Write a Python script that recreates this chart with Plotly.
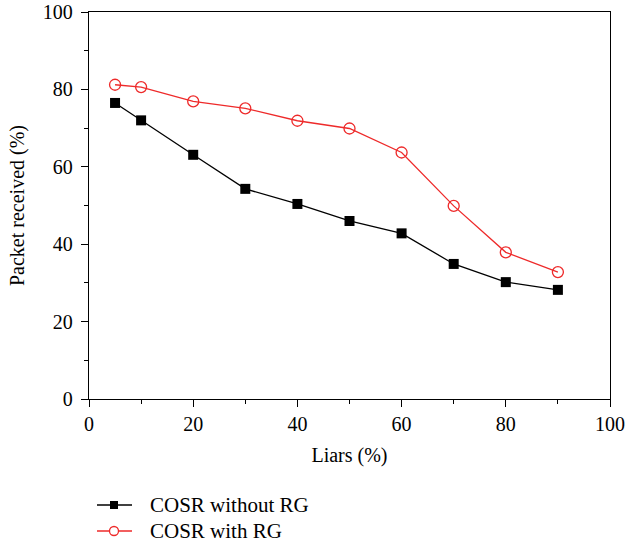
import plotly.graph_objects as go

liars = [5, 10, 20, 30, 40, 50, 60, 70, 80, 90]
without_rg = [76.5, 72.0, 63.1, 54.3, 50.4, 46.0, 42.8, 34.9, 30.2, 28.2]
with_rg = [81.2, 80.6, 76.9, 75.1, 71.9, 69.9, 63.7, 49.9, 37.9, 32.8]
series_names = ["COSR without RG", "COSR with RG"]

serif = "Liberation Serif"
fsize = 20
black = "black"
red = "#ee2a2a"

W, H = 627, 544
L, R, T, B = 89, 17, 12, 145
plot_w, plot_h = W - L - R, H - T - B


def px_x(px):
    return (px - L) / plot_w


def px_y(py):
    return (H - B - py) / plot_h


fig = go.Figure()
fig.add_trace(go.Scatter(
    x=liars, y=without_rg, mode="lines+markers", name=series_names[0],
    line=dict(color=black, width=1.3),
    marker=dict(symbol="square", size=10, color=black),
    showlegend=False,
))
fig.add_trace(go.Scatter(
    x=liars, y=with_rg, mode="lines+markers", name=series_names[1],
    line=dict(color=red, width=1.3),
    marker=dict(symbol="circle-open", size=11, color=red, line=dict(width=1.3)),
    showlegend=False,
))

axis_common = dict(
    showgrid=False, zeroline=False, showline=True, linecolor="black", linewidth=1.3,
    mirror=True, ticks="outside", ticklen=7, tickwidth=1.2, tickcolor="black",
    tickfont=dict(family=serif, size=fsize, color="black"),
    automargin=False,
)

fig.update_xaxes(
    range=[0, 100], dtick=20,
    minor=dict(dtick=10, ticks="outside", ticklen=4, tickwidth=1.2, tickcolor="black"),
    title=dict(text="Liars (%)", font=dict(family=serif, size=fsize, color="black"), standoff=13),
    **axis_common,
)
fig.update_yaxes(
    range=[0, 100], dtick=20,
    minor=dict(dtick=10, ticks="outside", ticklen=4, tickwidth=1.2, tickcolor="black"),
    ticklabelstandoff=4,
    title=dict(text="Packet received (%)", font=dict(family=serif, size=fsize, color="black"), standoff=12),
    **axis_common,
)

# Legend below the plot: sample line, marker glyph and label per series
legend_rows = [505, 531]
line_x0, line_x1, sym_x, text_x = 97, 132, 114, 148
shapes = []
annotations = []
for i, (name, color) in enumerate(zip(series_names, [black, red])):
    ly = px_y(legend_rows[i])
    shapes.append(dict(type="line", xref="paper", yref="paper",
                       x0=px_x(line_x0), x1=px_x(line_x1), y0=ly, y1=ly,
                       line=dict(color=color, width=1.3)))
    glyph = dict(xref="paper", yref="paper", xsizemode="pixel", ysizemode="pixel",
                 xanchor=px_x(sym_x), yanchor=ly)
    if i == 0:
        shapes.append(dict(type="rect", x0=-4, x1=4, y0=-4, y1=4,
                           fillcolor=black, line=dict(color=black, width=0), **glyph))
    else:
        shapes.append(dict(type="circle", x0=-4.5, x1=4.5, y0=-4.5, y1=4.5,
                           fillcolor="white", line=dict(color=red, width=1.3), **glyph))
    annotations.append(dict(text=name, xref="paper", yref="paper",
                            x=px_x(text_x), y=ly, xanchor="left", yanchor="middle",
                            showarrow=False,
                            font=dict(family=serif, size=21, color="black")))

fig.update_layout(
    width=W, height=H,
    margin=dict(l=L, r=R, t=T, b=B),
    paper_bgcolor="white", plot_bgcolor="white",
    font=dict(family=serif, size=fsize, color="black"),
    showlegend=False,
    shapes=shapes,
    annotations=annotations,
)

fig.write_html("out.html")
